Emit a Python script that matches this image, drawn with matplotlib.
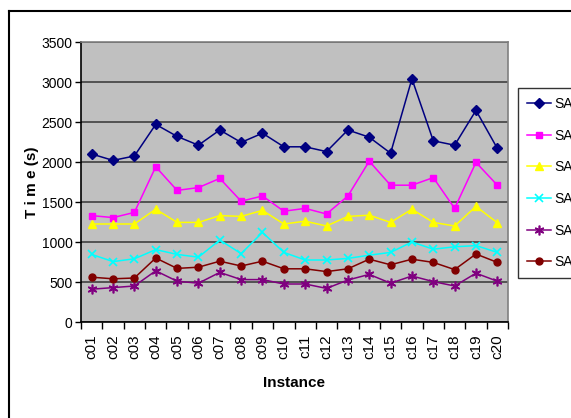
import matplotlib
matplotlib.use("Agg")
import matplotlib.pyplot as plt
from matplotlib.lines import Line2D

instances = ["c%02d" % i for i in range(1, 21)]
sac1 = [2100, 2020, 2075, 2470, 2320, 2210, 2400, 2245, 2360, 2190,
        2190, 2130, 2400, 2310, 2110, 3040, 2265, 2210, 2645, 2170]
sac2 = [1330, 1305, 1370, 1940, 1645, 1680, 1795, 1510, 1575, 1385,
        1420, 1350, 1575, 2010, 1710, 1710, 1805, 1420, 1995, 1710]
sac3 = [1225, 1225, 1225, 1410, 1245, 1245, 1330, 1320, 1395, 1225,
        1260, 1200, 1320, 1335, 1245, 1410, 1245, 1200, 1445, 1240]
sac4 = [845, 755, 790, 905, 845, 810, 1025, 855, 1120, 870,
        775, 775, 795, 835, 870, 1000, 910, 940, 955, 870]
sac5 = [410, 430, 450, 640, 510, 485, 620, 530, 530, 475,
        475, 420, 525, 595, 485, 575, 505, 450, 610, 510]
sac6 = [560, 540, 550, 800, 670, 685, 760, 700, 760, 665,
        665, 630, 665, 785, 715, 785, 745, 655, 850, 745]
labels = ["SAC1", "SAC2", "SAC3", "SAC4", "SAC5", "SAC6"]

styles = [
    dict(color="#000080", marker="D", ms=5),
    dict(color="#FF00FF", marker="s", ms=5),
    dict(color="#FFFF00", marker="^", ms=6),
    dict(color="#00FFFF", marker="x", ms=6, mew=1.2),
    dict(color="#800080", marker=(6, 2, 0), ms=7, mew=1.2),
    dict(color="#800000", marker="o", ms=5),
]

plt.rcParams["font.family"] = ["Liberation Sans", "DejaVu Sans"]

fig = plt.figure(figsize=(5.71, 4.18), dpi=100)
W, H = 571, 418
ax = fig.add_axes([81 / W, 1 - 322 / H, 427 / W, 280 / H])
ax.set_facecolor("#C0C0C0")

x = list(range(len(instances)))
for data, lab, st in zip([sac1, sac2, sac3, sac4, sac5, sac6], labels, styles):
    ax.plot(x, data, lw=1.1, label=lab, **st)

ax.set_xlim(-0.5, len(instances) - 0.5)
ax.set_ylim(0, 3500)
ax.set_yticks(range(0, 3501, 500))
ax.yaxis.grid(True, color="#404040", lw=1.2)
ax.set_axisbelow(True)
ax.set_xticks(x)
ax.set_xticklabels(instances, rotation=90, fontsize=11)
ax.set_xticks([i - 0.5 for i in range(len(instances) + 1)], minor=True)
ax.tick_params(axis="x", which="major", length=0, pad=9)
ax.tick_params(axis="x", which="minor", length=5, width=1, direction="out")
ax.tick_params(axis="y", length=4, width=1, labelsize=10, pad=2)

for side in ("left", "bottom"):
    ax.spines[side].set_color("black")
    ax.spines[side].set_linewidth(1.2)
for side in ("top", "right"):
    ax.spines[side].set_color("#808080")
    ax.spines[side].set_linewidth(1.2)

ax.set_xlabel("Instance", fontsize=11, fontweight="bold", labelpad=12)
ax.set_ylabel("T i m e (s)", fontsize=11, fontweight="bold", labelpad=2)

leg = fig.legend(loc="upper left", bbox_to_anchor=(518 / W, 1 - 88 / H),
                 frameon=True, fancybox=False, edgecolor="black",
                 fontsize=10, labelspacing=1.27, handlelength=1.75,
                 handletextpad=0.25, borderpad=0.65, borderaxespad=0)
leg.get_frame().set_linewidth(1)

# outer chart frame
fig.add_artist(Line2D([9 / W, 9 / W], [0, 1 - 11 / H], color="black", lw=1.5))
fig.add_artist(Line2D([9 / W, 1], [1 - 11 / H, 1 - 11 / H], color="black", lw=1.5))

fig.savefig("out.png", dpi=100)
